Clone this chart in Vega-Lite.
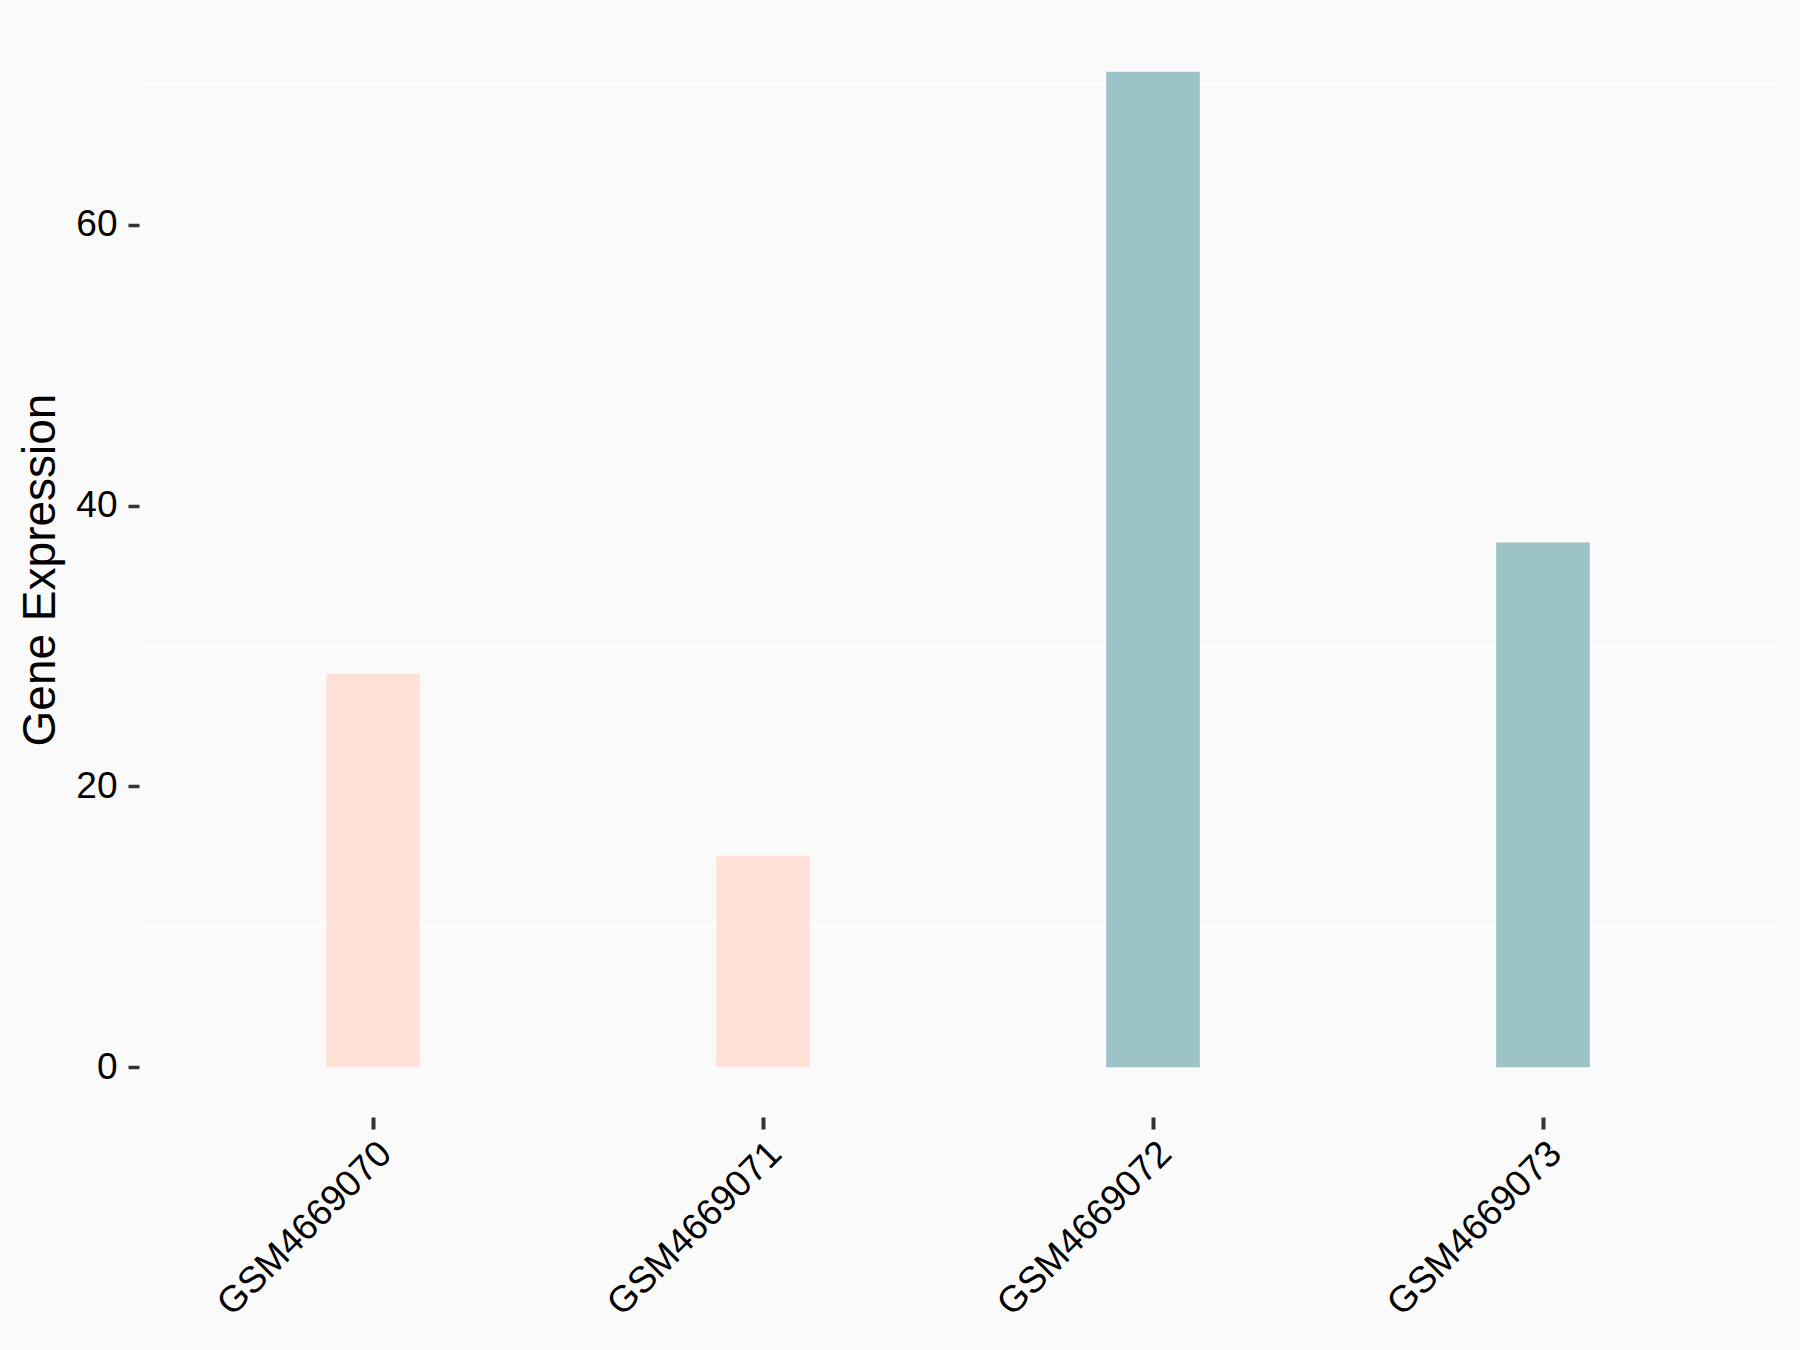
{
  "$schema": "https://vega.github.io/schema/vega-lite/v6.json",
  "width": 1638,
  "height": 1095,
  "autosize": "none",
  "padding": {"left": 139, "top": 22, "right": 23, "bottom": 233},
  "background": "#FAFAFA",
  "config": {
    "view": {"stroke": null},
    "font": "Liberation Sans"
  },
  "data": {
    "values": [
      {"sample": "GSM4669070", "value": 28.0, "group": "A"},
      {"sample": "GSM4669071", "value": 15.06, "group": "A"},
      {"sample": "GSM4669072", "value": 70.9, "group": "B"},
      {"sample": "GSM4669073", "value": 37.37, "group": "B"}
    ]
  },
  "mark": {"type": "bar", "width": {"band": 0.24}},
  "encoding": {
    "x": {
      "field": "sample",
      "type": "nominal",
      "sort": null,
      "scale": {"paddingInner": 0, "paddingOuter": 0.1},
      "axis": {
        "title": null,
        "domain": false,
        "grid": false,
        "ticks": true,
        "tickSize": 12,
        "tickWidth": 4,
        "tickColor": "#333333",
        "labelAngle": -45,
        "labelAlign": "right",
        "labelBaseline": "top",
        "labelFontSize": 37,
        "labelColor": "#000000",
        "labelPadding": 6,
        "labelLimit": 0
      }
    },
    "y": {
      "field": "value",
      "type": "quantitative",
      "scale": {"domain": [-3.545, 74.445], "nice": false, "zero": false},
      "axis": {
        "title": "Gene Expression",
        "titleFontSize": 46,
        "titleFontWeight": "normal",
        "titleColor": "#000000",
        "titlePadding": 11,
        "values": [0, 10, 20, 30, 40, 50, 60, 70],
        "labelExpr": "datum.value % 20 === 0 ? datum.label : ''",
        "domain": false,
        "grid": true,
        "gridColor": "#FFFFFF",
        "gridWidth": 2.5,
        "gridOpacity": {"condition": {"test": "datum.value % 20 === 0", "value": 0}, "value": 1},
        "ticks": true,
        "tickSize": 11,
        "tickWidth": 3.5,
        "tickColor": "#333333",
        "tickOpacity": {"condition": {"test": "datum.value % 20 === 0", "value": 1}, "value": 0},
        "labelFontSize": 37,
        "labelColor": "#000000",
        "labelPadding": 11
      }
    },
    "color": {
      "field": "group",
      "type": "nominal",
      "scale": {"domain": ["A", "B"], "range": ["#FFE1D7", "#9CC4C8"]},
      "legend": null
    }
  }
}
